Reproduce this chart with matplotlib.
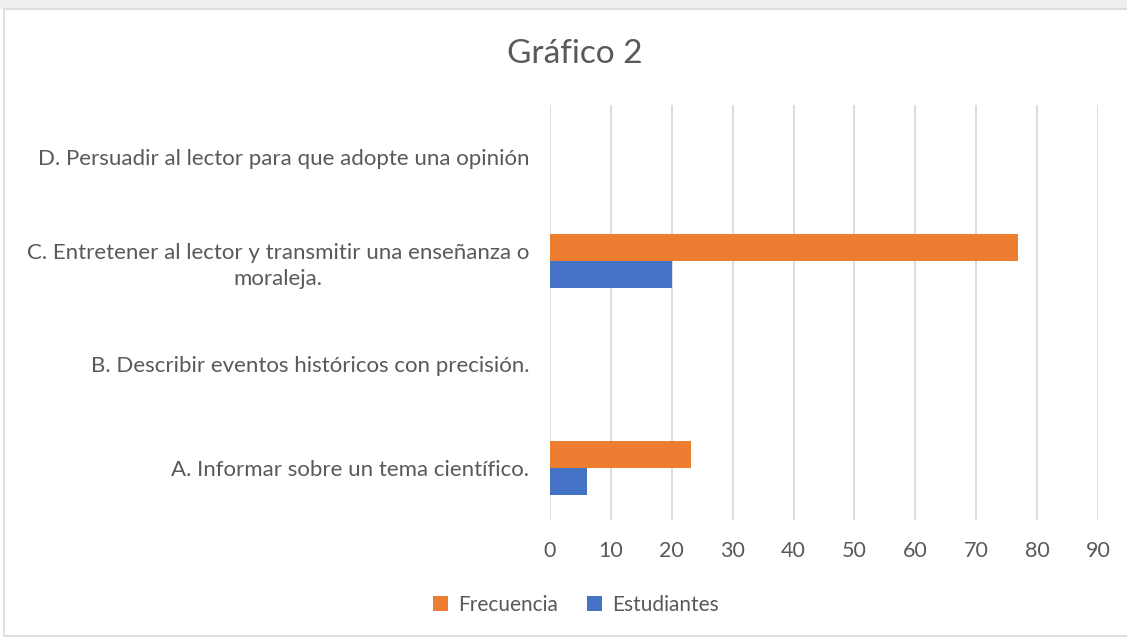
import matplotlib
matplotlib.use("Agg")
import matplotlib.pyplot as plt
import numpy as np
from matplotlib.patches import Rectangle

categories = [
    "A. Informar sobre un tema científico.",
    "B. Describir eventos históricos con precisión.",
    "C. Entretener al lector y transmitir una enseñanza o\nmoraleja.",
    "D. Persuadir al lector para que adopte una opinión",
]
frecuencia = [23.08, 0, 76.92, 0]
estudiantes = [6, 0, 20, 0]
series_names = ["Frecuencia", "Estudiantes"]
colors = ["#ED7D31", "#4472C4"]
xticks = [0, 10, 20, 30, 40, 50, 60, 70, 80, 90]

plt.rcParams['font.family'] = ['Lato', 'DejaVu Sans']
txt = "#595959"

fig = plt.figure(figsize=(11.27, 6.39), dpi=100)
fig.patch.set_facecolor("white")
# page band and chart frame
fig.add_artist(Rectangle((0, 1 - 9/639), 1, 9/639, transform=fig.transFigure,
                         facecolor="#efefef", edgecolor="none", zorder=0))
fig.add_artist(Rectangle((4/1127, 3/639), 1.2, 1 - 12/639, transform=fig.transFigure,
                         facecolor="none", edgecolor="#d9d9d9", linewidth=1.2, zorder=1))

ax = fig.add_axes([550/1127, 1 - 520/639, 548/1127, 415/639])
y = np.arange(len(categories))
h = 0.26
ax.barh(y + h/2, frecuencia, height=h, color=colors[0], label=series_names[0], zorder=3)
ax.barh(y - h/2, estudiantes, height=h, color=colors[1], label=series_names[1], zorder=3)

ax.set_xlim(0, 90)
ax.set_ylim(-0.5, len(categories) - 0.5)
ax.set_xticks(xticks)
ax.set_yticks(y)
ax.set_yticklabels(categories, fontsize=16, color=txt, multialignment='center', linespacing=1.4)
ax.tick_params(axis='x', labelsize=15.5, colors=txt, length=0, pad=15)
ax.tick_params(axis='y', length=0, pad=15)
ax.grid(axis='x', color="#d9d9d9", linewidth=1.3, zorder=0)
for s in ax.spines.values():
    s.set_visible(False)
ax.set_facecolor("none")

fig.text(575/1127, 1 - 54/639, "Gráfico 2", ha='center', va='center', fontsize=24, color=txt)

handles, labels = ax.get_legend_handles_labels()
fig.legend(handles, labels, loc='center', bbox_to_anchor=(576/1127, 1 - 605/639), ncol=2,
           frameon=False, fontsize=15, labelcolor=txt, handlelength=0.7, handleheight=0.7,
           handletextpad=0.5, columnspacing=1.4)

fig.savefig("out.png", dpi=100, facecolor="white")
